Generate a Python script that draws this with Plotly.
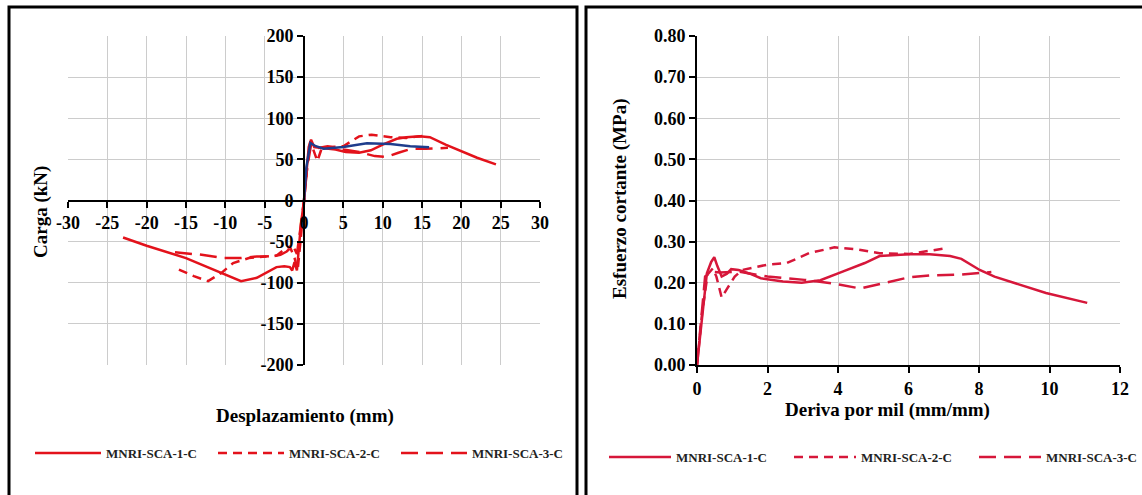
import plotly.graph_objects as go

W, H = 1142, 495

# ---------------- Left chart data: Carga (kN) vs Desplazamiento (mm) ----------------
series_names = ["MNRI-SCA-1-C", "MNRI-SCA-2-C", "MNRI-SCA-3-C"]

s1_x = [-23.0, -20, -15, -10, -8, -6, -4.5, -3.5, -2.5, -1.8, -1.5, -1.2, -0.9, -0.4, 0,
        0.3, 0.6, 0.9, 1.3, 2, 3, 4, 5.3, 7, 8.5, 10, 11.8, 13, 14.7, 16, 18, 20, 22, 24.4]
s1_y = [-45, -55, -70, -90, -98, -94, -86, -81, -80, -81, -85, -75, -85, -30, 0,
        35, 65, 74, 65, 64, 63, 62, 59, 58, 61, 68, 75, 77, 78, 77, 68, 60, 52, 44]

s2_x = [-15.9, -14, -12.2, -10.5, -9, -7, -5, -3.5, -2.3, -1.8, -1.2, -0.8, -0.4, 0,
        0.4, 0.8, 1.2, 1.7, 2.2, 3, 5, 7, 8.6, 11, 13, 15.6]
s2_y = [-84, -92, -98, -88, -76, -70, -68, -67, -58, -56, -70, -84, -45, 0,
        40, 72, 62, 48, 62, 65, 66, 78, 80, 77, 76, 79]

s3_x = [-16.4, -13, -10.3, -8, -6, -4, -3, -2.2, -1.4, -0.9, -0.4, 0,
        0.4, 0.9, 1.4, 2, 3, 5, 7, 9, 10.5, 12, 13.7, 15.5, 18.3]
s3_y = [-63, -66, -70, -70, -68, -68, -66, -62, -55, -65, -30, 0,
        40, 68, 63, 64, 66, 62, 59, 54, 53, 58, 63, 63, 64]

blue_x = [0, 0.3, 0.8, 1.5, 2.5, 5, 8, 11, 13.5, 15.9]
blue_y = [0, 40, 70, 66, 63, 65, 69.5, 68.7, 66, 64.6]

left_x_ticks = [-30, -25, -20, -15, -10, -5, 0, 5, 10, 15, 20, 25, 30]
left_x_labels = ["-30", "-25", "-20", "-15", "-10", "-5", "0", "5", "10", "15", "20", "25", "30"]
left_y_ticks = [-200, -150, -100, -50, 0, 50, 100, 150, 200]
left_y_labels = ["-200", "-150", "-100", "-50", "0", "50", "100", "150", "200"]

# ---------------- Right chart data: Esfuerzo cortante (MPa) vs Deriva por mil ----------------
r1_x = [0, 0.13, 0.28, 0.4, 0.49, 0.58, 0.7, 0.85, 0.97, 1.18, 1.5, 1.81, 2.44, 2.97, 3.5,
        4.13, 4.76, 5.18, 6.02, 6.6, 7.18, 7.5, 8.02, 8.44, 9.2, 9.9, 11.07]
r1_y = [0, 0.11, 0.223, 0.25, 0.262, 0.24, 0.215, 0.222, 0.233, 0.231, 0.222, 0.211, 0.203, 0.2, 0.206,
        0.227, 0.248, 0.265, 0.269, 0.269, 0.265, 0.258, 0.231, 0.215, 0.195, 0.175, 0.151]

r2_x = [0, 0.15, 0.3, 0.45, 0.55, 0.7, 0.85, 1.07, 1.28, 2.0, 2.55, 3.18, 3.9, 4.55, 5.18, 6.02, 7.07]
r2_y = [0, 0.13, 0.22, 0.235, 0.215, 0.164, 0.185, 0.215, 0.231, 0.244, 0.248, 0.272, 0.286, 0.281,
        0.272, 0.27, 0.284]

r3_x = [0, 0.1, 0.23, 0.44, 0.65, 1.18, 2.0, 3.05, 3.9, 4.63, 5.26, 6.0, 6.65, 7.5, 8.35]
r3_y = [0, 0.1, 0.215, 0.227, 0.225, 0.227, 0.215, 0.207, 0.198, 0.186, 0.198, 0.213, 0.218, 0.22, 0.226]

# ---------------- Styling ----------------
RED_L = "#E3121B"
RED_R = "#D6173A"
BLUE = "#1F3D8C"
FONT = "Liberation Serif"
dashes = ["solid", "9px,6px", "17px,8px"]
LW = 2.5

fig = go.Figure()

left_sets = [(s1_x, s1_y), (s2_x, s2_y), (s3_x, s3_y)]
for i, (xs, ys) in enumerate(left_sets):
    fig.add_trace(go.Scatter(x=xs, y=ys, mode="lines", name=series_names[i],
                             line=dict(color=RED_L, width=LW, dash=dashes[i]),
                             xaxis="x", yaxis="y", legend="legend"))
fig.add_trace(go.Scatter(x=blue_x, y=blue_y, mode="lines", name="",
                         line=dict(color=BLUE, width=LW), showlegend=False,
                         xaxis="x", yaxis="y"))

right_sets = [(r1_x, r1_y), (r2_x, r2_y), (r3_x, r3_y)]
for i, (xs, ys) in enumerate(right_sets):
    fig.add_trace(go.Scatter(x=xs, y=ys, mode="lines", name=series_names[i],
                             line=dict(color=RED_R, width=LW, dash=dashes[i]),
                             xaxis="x2", yaxis="y2", legend="legend2"))

def px(x):
    return x / W

def py(y):
    return 1 - y / H

tickfont = dict(family=FONT, size=18, color="black", weight="bold")
titlefont = dict(family=FONT, size=19, color="black", weight="bold")
legfont = dict(family=FONT, size=13, color="#222", weight="bold")
grid = "#CCCCCC"

L_X = [px(68), px(540)]
R_X = [px(697), px(1120)]
Y_D = [py(365), py(36)]

common = dict(showline=True, linecolor="black", linewidth=2, ticks="outside", ticklen=6,
              tickwidth=2, tickcolor="black", showgrid=True, gridcolor=grid, gridwidth=1,
              zeroline=False, tickfont=tickfont, fixedrange=True, automargin=False)

fig.update_layout(
    template="none",
    width=W, height=H, autosize=False,
    margin=dict(l=0, r=0, t=0, b=0, pad=0, autoexpand=False),
    paper_bgcolor="white", plot_bgcolor="white",
    xaxis=dict(domain=L_X, range=[-30, 30], tickmode="array", tickvals=left_x_ticks,
               ticktext=left_x_labels, anchor="free",
               position=(Y_D[0] + Y_D[1]) / 2, **common),
    yaxis=dict(domain=Y_D, range=[-200, 200], tickmode="array", tickvals=left_y_ticks,
               ticktext=left_y_labels, anchor="free",
               position=(L_X[0] + L_X[1]) / 2, **common),
    xaxis2=dict(domain=R_X, range=[0, 12], tick0=0, dtick=2, anchor="y2", **common),
    yaxis2=dict(domain=Y_D, range=[0, 0.8], tick0=0, dtick=0.1, tickformat=".2f",
                anchor="x2", **common),
    legend=dict(orientation="h", x=px(30), y=py(453), xanchor="left", yanchor="middle",
                itemwidth=66, entrywidth=102, bgcolor="rgba(0,0,0,0)", borderwidth=0,
                font=legfont),
    legend2=dict(orientation="h", x=px(604), y=py(457), xanchor="left", yanchor="middle",
                 itemwidth=62, entrywidth=108, bgcolor="rgba(0,0,0,0)", borderwidth=0,
                 font=legfont),
    showlegend=True,
    annotations=[
        dict(text="Desplazamiento (mm)", x=px(305), y=py(416), xref="paper", yref="paper",
             showarrow=False, font=titlefont, xanchor="center", yanchor="middle"),
        dict(text="Carga (kN)", x=px(41), y=py(212), xref="paper", yref="paper",
             showarrow=False, font=titlefont, textangle=-90, xanchor="center", yanchor="middle"),
        dict(text="Deriva por mil (mm/mm)", x=px(887), y=py(410), xref="paper", yref="paper",
             showarrow=False, font=titlefont, xanchor="center", yanchor="middle"),
        dict(text="Esfuerzo cortante (MPa)", x=px(620), y=py(199), xref="paper", yref="paper",
             showarrow=False, font=titlefont, textangle=-90, xanchor="center", yanchor="middle"),
    ],
    shapes=[
        dict(type="rect", xref="paper", yref="paper", x0=px(9), x1=px(577), y0=-0.05, y1=py(7),
             line=dict(color="black", width=3), layer="below"),
        dict(type="rect", xref="paper", yref="paper", x0=px(586), x1=1.02, y0=-0.05, y1=py(7),
             line=dict(color="black", width=3), layer="below"),
    ],
)

fig.write_html("out.html", config={"displayModeBar": False},
               post_script="document.body.style.margin='0px';")
